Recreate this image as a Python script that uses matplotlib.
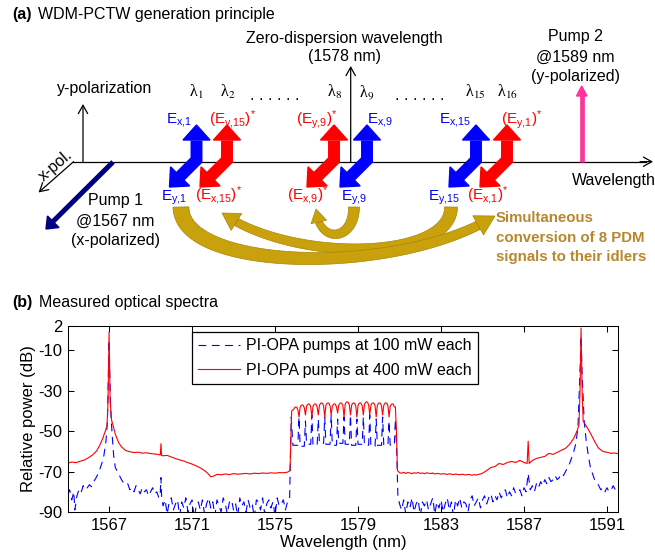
import numpy as np
import matplotlib
matplotlib.use('Agg')
import matplotlib.pyplot as plt
from matplotlib.patches import Polygon

plt.rcParams['font.family'] = ['Liberation Sans', 'DejaVu Sans']
plt.rcParams['mathtext.fontset'] = 'custom'
plt.rcParams['mathtext.rm'] = 'Liberation Sans'
plt.rcParams['mathtext.it'] = 'Liberation Sans:italic'
plt.rcParams['mathtext.bf'] = 'Liberation Sans:bold'
plt.rcParams['axes.unicode_minus'] = False

# ---------------- data ----------------
x_ticks = [1567, 1571, 1575, 1579, 1583, 1587, 1591]
y_ticks = [2, -10, -30, -50, -70, -90]
legend_labels = ['PI-OPA pumps at 100 mW each', 'PI-OPA pumps at 400 mW each']

# 400 mW trace (red), left of the signal band
red_left = [(1565.0, -65.9), (1565.2, -65.3), (1565.4, -65.6), (1565.6, -64.9), (1565.8, -64.3),
            (1566.0, -63.2), (1566.2, -61.8), (1566.4, -59.8), (1566.55, -57.0), (1566.7, -53.5),
            (1566.8, -50.5), (1566.9, -47.5), (1566.95, -35.0), (1567.0, -1.0), (1567.05, -35.0),
            (1567.12, -44.5), (1567.2, -47.5), (1567.3, -51.5), (1567.45, -55.5), (1567.6, -57.8),
            (1567.8, -59.6), (1568.0, -60.2), (1568.2, -60.6), (1568.4, -60.4), (1568.6, -60.9),
            (1568.8, -60.7), (1569.0, -61.1), (1569.2, -61.3), (1569.4, -61.6), (1569.47, -61.8),
            (1569.5, -56.2), (1569.53, -62.0), (1569.6, -62.2), (1569.8, -62.0), (1570.0, -62.8),
            (1570.2, -63.6), (1570.4, -64.2), (1570.6, -64.8), (1570.8, -65.6), (1571.0, -66.3),
            (1571.2, -67.2), (1571.4, -68.2), (1571.6, -69.5), (1571.75, -70.8), (1571.9, -72.6),
            (1572.05, -72.2), (1572.2, -71.4), (1572.4, -71.6), (1572.6, -71.2), (1572.8, -71.5),
            (1573.0, -71.0), (1573.2, -71.3), (1573.4, -71.1), (1573.6, -70.9), (1573.8, -71.2),
            (1574.0, -70.8), (1574.2, -71.0), (1574.4, -70.7), (1574.6, -70.9), (1574.8, -70.6),
            (1575.0, -70.8), (1575.2, -70.5), (1575.4, -70.6), (1575.6, -70.3), (1575.72, -69.5),
            (1575.8, -40.0)]

# 400 mW trace (red), right of the signal band
red_right = [(1580.8, -38.0), (1580.85, -50.0), (1580.9, -69.5), (1581.0, -70.6), (1581.1, -70.8),
             (1581.2, -70.4), (1581.3, -70.9), (1581.4, -70.5), (1581.5, -70.7), (1581.6, -71.0),
             (1581.7, -70.6), (1581.8, -70.8), (1581.9, -70.5), (1582.0, -70.9), (1582.1, -70.7),
             (1582.2, -71.1), (1582.3, -70.6), (1582.4, -70.8), (1582.5, -71.0), (1582.6, -70.7),
             (1582.7, -71.2), (1582.8, -70.9), (1582.9, -71.0), (1583.0, -71.3), (1583.1, -71.0),
             (1583.2, -71.2), (1583.3, -71.4), (1583.4, -71.1), (1583.5, -71.3), (1583.6, -71.5),
             (1583.7, -71.2), (1583.8, -71.4), (1583.9, -71.6), (1584.0, -71.3), (1584.1, -71.5),
             (1584.2, -71.7), (1584.3, -71.4), (1584.4, -71.6), (1584.5, -71.8), (1584.6, -71.5),
             (1584.7, -71.7), (1584.8, -71.4), (1584.9, -71.2), (1585.0, -70.8), (1585.2, -69.5),
             (1585.4, -68.0), (1585.6, -67.5), (1585.8, -66.0), (1586.0, -66.5), (1586.2, -65.5),
             (1586.4, -65.0), (1586.6, -65.5), (1586.8, -64.5), (1587.0, -65.5), (1587.15, -66.0),
             (1587.2, -55.0), (1587.25, -66.0), (1587.4, -64.5), (1587.6, -63.5), (1587.8, -63.0),
             (1588.0, -62.5), (1588.2, -61.0), (1588.4, -61.5), (1588.6, -60.5), (1588.8, -59.5),
             (1589.0, -58.5), (1589.2, -56.5), (1589.4, -53.5), (1589.55, -50.0), (1589.65, -47.0),
             (1589.7, -30.0), (1589.75, 1.0), (1589.8, -30.0), (1589.85, -45.0), (1590.0, -47.5),
             (1590.15, -50.0), (1590.3, -53.0), (1590.45, -56.0), (1590.6, -58.5), (1590.8, -60.0),
             (1591.0, -60.5), (1591.2, -61.0), (1591.35, -60.8), (1591.55, -61.2)]

# signal band: 16 WDM channels
channel_wl = [1576.00, 1576.31, 1576.62, 1576.93, 1577.24, 1577.55, 1577.86, 1578.17,
              1578.48, 1578.79, 1579.10, 1579.41, 1579.72, 1580.03, 1580.34, 1580.65]
red_top_db = [-38.0, -37.0, -36.5, -36.5, -36.0, -36.0, -36.5, -36.0,
              -35.5, -36.0, -36.0, -35.5, -36.0, -36.0, -36.0, -36.5]
red_dip_db = [-43.0, -42.0, -43.0, -42.0, -43.0, -42.0, -41.0, -43.0,
              -42.0, -43.0, -42.0, -42.0, -43.0, -42.0, -43.0]
blue_peak_db = [-43.0, -45.0, -42.0, -44.0, -43.0, -42.0, -44.0, -43.0,
                -42.0, -44.0, -43.0, -42.0, -44.0, -43.0, -45.0]
blue_floor_db = [-57.0, -57.5, -56.5, -57.0, -56.0, -56.5, -57.0, -56.0,
                 -56.5, -57.0, -56.5, -57.0, -57.5, -57.0, -57.0, -57.0]

# 100 mW trace (blue)
blue_left = [(1565.0, -81), (1565.1, -79), (1565.2, -84), (1565.3, -80), (1565.35, -89),
             (1565.45, -82), (1565.55, -79), (1565.65, -80.5), (1565.75, -77), (1565.85, -79),
             (1565.95, -78), (1566.05, -76.5), (1566.15, -77.5), (1566.25, -75), (1566.35, -73.5),
             (1566.45, -71.5), (1566.55, -69), (1566.65, -66), (1566.75, -62), (1566.85, -55),
             (1566.92, -45), (1566.97, -20), (1567.0, -5), (1567.03, -20), (1567.08, -40),
             (1567.15, -52), (1567.22, -62), (1567.3, -68), (1567.45, -71), (1567.6, -74),
             (1567.75, -76.5), (1567.9, -76), (1568.0, -79), (1568.1, -78), (1568.2, -80),
             (1568.3, -77), (1568.4, -79), (1568.5, -81), (1568.6, -78), (1568.7, -80),
             (1568.8, -79), (1568.9, -82), (1569.0, -80), (1569.1, -78), (1569.2, -81),
             (1569.3, -80), (1569.4, -83), (1569.47, -80), (1569.5, -73), (1569.53, -82)]
blue_noise_a_start = 1569.6
blue_noise_a = [-87, -84, -91, -85, -83, -89, -86, -84, -92, -85, -88, -83, -90, -86, -84, -93,
                -87, -85, -89, -84, -91, -86, -83, -88, -85, -92, -84, -87, -90, -83, -86, -91,
                -85, -84, -89, -86, -92, -83, -87, -85, -90, -84, -88, -86, -93, -84, -85, -89,
                -83, -91, -86, -84, -88, -85, -92, -83, -87, -86, -84, -89, -85]
blue_band_in = [(1575.7, -84), (1575.78, -43), (1575.86, -57)]
blue_band_out = [(1580.75, -57), (1580.8, -44), (1580.86, -58), (1580.92, -82)]
blue_noise_b_start = 1581.0
blue_noise_b = [-86, -89, -84, -91, -85, -88, -83, -90, -86, -84, -92, -85, -87, -84, -89, -86,
                -83, -91, -85, -88, -84, -90, -86, -83, -89, -85, -92, -84, -87, -83, -88, -85,
                -86, -90, -84, -82, -87, -85, -83, -88, -84, -82, -86, -83, -81, -85,
                -82, -84, -80, -83, -81, -79, -83, -80, -82, -78, -81, -80, -79, -82, -78, -80,
                -71, -79, -77, -80, -76, -78, -75, -77, -74, -76, -73, -75, -74, -72, -74, -73,
                -71, -72, -70, -68, -66, -63, -60, -56]
blue_right = [(1589.6, -48), (1589.7, -20), (1589.75, -3), (1589.8, -22), (1589.9, -45),
              (1590.0, -55), (1590.1, -62), (1590.2, -68), (1590.3, -71), (1590.4, -74),
              (1590.5, -75), (1590.6, -77), (1590.7, -79), (1590.8, -78), (1590.9, -80),
              (1591.0, -78), (1591.1, -80), (1591.2, -79), (1591.3, -77), (1591.4, -79),
              (1591.55, -78)]
noise_step = 0.1

# ---------------- build traces ----------------
red_pts = list(red_left)
for i, c in enumerate(channel_wl):
    t = red_top_db[i]
    red_pts += [(c - 0.10, t - 1.2), (c - 0.05, t - 0.3), (c, t), (c + 0.05, t - 0.3), (c + 0.10, t - 1.5)]
    if i < len(red_dip_db):
        red_pts.append((c + 0.155, red_dip_db[i]))
red_pts += red_right
red_wl, red_db = zip(*red_pts)

blue_pts = list(blue_left)
blue_pts += [(blue_noise_a_start + noise_step * k, v) for k, v in enumerate(blue_noise_a)]
blue_pts += blue_band_in
for i, c in enumerate(channel_wl):
    f = blue_floor_db[i]
    blue_pts += [(c - 0.10, f), (c + 0.10, f)]
    if i < len(blue_peak_db):
        blue_pts.append((c + 0.155, blue_peak_db[i]))
blue_pts += blue_band_out
blue_pts += [(blue_noise_b_start + noise_step * k, v) for k, v in enumerate(blue_noise_b)]
blue_pts += blue_right
blue_wl, blue_db = zip(*blue_pts)

# ---------------- figure ----------------
fig = plt.figure(figsize=(6.55, 5.58), dpi=100)
ov = fig.add_axes([0, 0, 1, 1])
ov.set_xlim(0, 655)
ov.set_ylim(558, 0)
ov.axis('off')

FS = 11.5
BLUE = '#0000ff'
RED = '#ff0000'
GOLD = '#c9a10c'
GOLD_EDGE = '#a88508'

# titles
ov.text(12, 14, '(a)', fontsize=FS, fontweight='bold', va='center', ha='left')
ov.text(37.5, 14, 'WDM-PCTW generation principle', fontsize=FS, va='center', ha='left')
ov.text(12, 303, '(b)', fontsize=FS, fontweight='bold', va='center', ha='left')
ov.text(39, 303, 'Measured optical spectra', fontsize=FS, va='center', ha='left')


def thin_arrow(p0, p1):
    ov.annotate('', xy=p1, xytext=p0,
                arrowprops=dict(arrowstyle='->,head_length=0.5,head_width=0.28', lw=0.9,
                                color='k', shrinkA=0, shrinkB=0, mutation_scale=12))


# axes of the principle diagram
ov.plot([73, 646], [161.7, 161.7], color='k', lw=0.9, zorder=1)
thin_arrow((640, 161.7), (653, 161.7))
thin_arrow((83, 161.7), (83, 104))
thin_arrow((73.5, 161.7), (38.5, 192.5))
thin_arrow((350.7, 161.7), (350.7, 66))
ov.text(105, 88, 'y-polarization', fontsize=FS, ha='center', va='center')
ov.text(56, 165, 'x-pol.', fontsize=FS, ha='center', va='center', rotation=41)
ov.text(572, 180, 'Wavelength', fontsize=FS, ha='left', va='center')
ov.text(344.5, 38, 'Zero-dispersion wavelength', fontsize=FS, ha='center', va='center')
ov.text(345, 57, '(1578 nm)', fontsize=FS, ha='center', va='center')

# pump 1
ov.plot([113, 52], [162, 222.5], color='#000080', lw=3.6, solid_capstyle='butt', zorder=2)
ov.add_patch(Polygon([[46, 229], [47.5, 216], [59, 227.5]], closed=True, color='#000080', zorder=2))
for txt, yy in zip(['Pump 1', '@1567 nm', '(x-polarized)'], [201, 221, 241]):
    ov.text(115, yy, txt, fontsize=FS, ha='center', va='center')

# pump 2
ov.plot([581.7, 581.7], [161.7, 95], color='#ff3399', lw=3.4, solid_capstyle='butt', zorder=2)
ov.add_patch(Polygon([[576.5, 96], [587, 96], [581.7, 86]], closed=True, color='#ff3399', zorder=2))
for txt, yy in zip(['Pump 2', '@1589 nm', '(y-polarized)'], [37, 57, 77]):
    ov.text(575, yy, txt, fontsize=FS, ha='center', va='center')


def bent_arrow(cx, color):
    top_tip, head_base_top = 125.0, 140.0
    bend_y = 160.0
    tip = np.array([cx - 27.0, 187.0])
    d = np.array([-1.0, 1.0]) / np.sqrt(2)
    perp = np.array([1.0, 1.0]) / np.sqrt(2)
    hl, hw = 15.0, 13.5
    base = tip - hl * d
    ov.plot([cx, cx, base[0]], [head_base_top + 0.5, bend_y, base[1]], color=color, lw=8.6,
            solid_joinstyle='miter', solid_capstyle='butt', zorder=3)
    ov.add_patch(Polygon([[cx - 13.5, head_base_top], [cx + 13.5, head_base_top], [cx, top_tip]],
                         closed=True, color=color, zorder=3))
    ov.add_patch(Polygon([base + hw * perp, base - hw * perp, tip], closed=True, color=color, zorder=3))


arrow_x = [196.5, 227, 334, 367, 476, 507]
arrow_c = [BLUE, RED, RED, BLUE, BLUE, RED]
for xx, cc in zip(arrow_x, arrow_c):
    bent_arrow(xx, cc)

# wavelength labels
lam_labels = ['1', '2', '8', '9', '15', '16']
lam_x = [196, 227.5, 334.5, 367, 475.5, 507]
for lx, ll in zip(lam_x, lam_labels):
    ov.text(lx, 97, 'λ$_{\\mathrm{' + ll + '}}$', fontsize=FS, family=['Liberation Serif', 'DejaVu Serif'],
            math_fontfamily='stix', ha='center', va='baseline')
ov.text(275, 100, '. . . . . .', fontsize=FS, ha='center', va='baseline')
ov.text(420, 100, '. . . . . .', fontsize=FS, ha='center', va='baseline')

# field labels
upper_labels = [(179.5, 'E$_{\\mathrm{x{,}1}}$', BLUE), (233, '(E$_{\\mathrm{y{,}15}}$)$^{*}$', RED),
                (317, '(E$_{\\mathrm{y{,}9}}$)$^{*}$', RED), (380.5, 'E$_{\\mathrm{x{,}9}}$', BLUE),
                (455.5, 'E$_{\\mathrm{x{,}15}}$', BLUE), (522, '(E$_{\\mathrm{y{,}1}}$)$^{*}$', RED)]
lower_labels = [(174.5, 'E$_{\\mathrm{y{,}1}}$', BLUE), (219, '(E$_{\\mathrm{x{,}15}}$)$^{*}$', RED),
                (308, '(E$_{\\mathrm{x{,}9}}$)$^{*}$', RED), (354.5, 'E$_{\\mathrm{y{,}9}}$', BLUE),
                (444, 'E$_{\\mathrm{y{,}15}}$', BLUE), (487.5, '(E$_{\\mathrm{x{,}1}}$)$^{*}$', RED)]
for lx, lt, lc in upper_labels:
    ov.text(lx, 123.5, lt, fontsize=11, color=lc, ha='center', va='baseline', math_fontfamily='custom')
for lx, lt, lc in lower_labels:
    ov.text(lx, 200.5, lt, fontsize=11, color=lc, ha='center', va='baseline', math_fontfamily='custom')


def gold_arrow(P, w0, w1, hw, hl):
    P = np.array(P, dtype=float)
    t = np.linspace(0, 1, 200)[:, None]
    B = ((1 - t) ** 3) * P[0] + 3 * ((1 - t) ** 2) * t * P[1] + 3 * (1 - t) * t ** 2 * P[2] + t ** 3 * P[3]
    dist = np.linalg.norm(B - B[-1], axis=1)
    k = np.where(dist >= hl)[0][-1]
    S = B[:k + 1]
    tang = np.gradient(S, axis=0)
    tang /= np.linalg.norm(tang, axis=1)[:, None]
    nrm = np.stack([-tang[:, 1], tang[:, 0]], axis=1)
    w = np.linspace(w0, w1, len(S))[:, None] / 2
    left = S + nrm * w
    right = S - nrm * w
    poly = np.vstack([left, right[::-1]])
    ov.add_patch(Polygon(poly, closed=True, facecolor=GOLD, edgecolor=GOLD_EDGE, lw=0.5, zorder=4))
    dirv = B[-1] - S[-1]
    dirv /= np.linalg.norm(dirv)
    pv = np.array([-dirv[1], dirv[0]])
    head = [S[-1] + pv * hw / 2, S[-1] - pv * hw / 2, B[-1]]
    ov.add_patch(Polygon(head, closed=True, facecolor=GOLD, edgecolor=GOLD_EDGE, lw=0.5, zorder=4))


gold_arrow([(451, 207), (451, 262), (290, 262), (222, 213)], 13, 8, 20, 17)
gold_arrow([(181, 207), (181, 272), (400, 276), (495, 216)], 16, 9, 22, 19)
gold_arrow([(354, 207), (354, 242), (318, 244), (316, 209)], 11, 7, 16, 13)

gold_txt = ['Simultaneous', 'conversion of 8 PDM', 'signals to their idlers']
for txt, yy in zip(gold_txt, [218, 237.5, 257]):
    ov.text(496, yy, txt, fontsize=10.8, fontweight='bold', color='#b8862b', ha='left', va='center')

# ---------------- spectrum panel ----------------
ax = fig.add_axes([68 / 655, 1 - 512 / 558, 550 / 655, 186 / 558])
ax.plot(blue_wl, blue_db, color=BLUE, lw=0.8, ls=(0, (7, 5)), label=legend_labels[0])
ax.plot(red_wl, red_db, color=RED, lw=0.8, label=legend_labels[1])
ax.set_xlim(1565.02, 1591.53)
ax.set_ylim(-90, 2)
ax.set_xticks(x_ticks)
ax.set_yticks(y_ticks)
ax.tick_params(direction='in', top=True, right=True, length=4, width=0.75, labelsize=12, pad=4)
for s in ax.spines.values():
    s.set_linewidth(0.75)
ax.set_xlabel('Wavelength (nm)', fontsize=12, labelpad=2)
ax.set_ylabel('Relative power (dB)', fontsize=12, labelpad=2)
leg = ax.legend(loc='upper left', bbox_to_anchor=((192 - 68) / 550, (512 - 332) / 186), fontsize=11.5,
                frameon=True, fancybox=False, edgecolor='k', framealpha=1, borderaxespad=0,
                handlelength=2.6, handletextpad=0.4, labelspacing=0.6, borderpad=0.4)
leg.get_frame().set_linewidth(0.9)

fig.savefig('out.png', dpi=100)
